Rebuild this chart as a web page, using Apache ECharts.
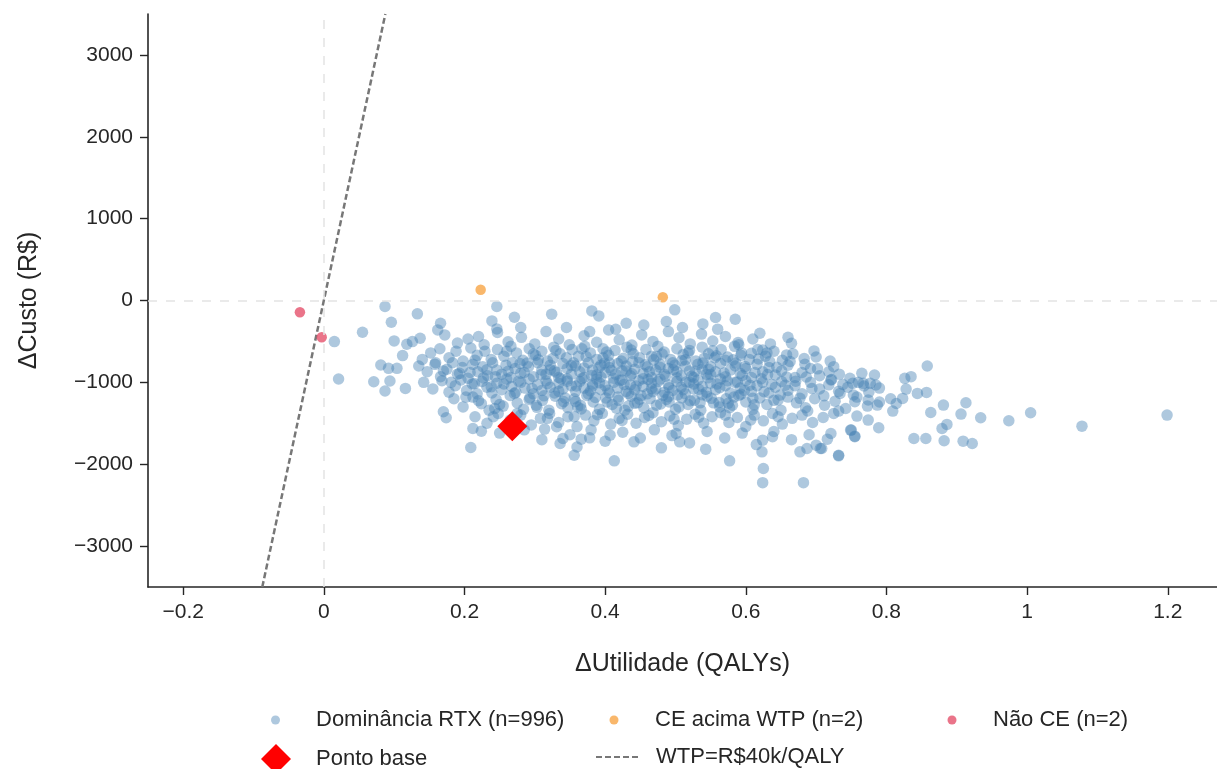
<!DOCTYPE html>
<html><head><meta charset="utf-8">
<script src="https://cdn.jsdelivr.net/npm/echarts@6/dist/echarts.min.js"></script>
<style>html,body{margin:0;padding:0;background:#fff}#c{width:1217px;height:769px}</style>
</head><body><div id="c"></div>
<script>
const X_TICKS = [-0.2, 0, 0.2, 0.4, 0.6, 0.8, 1, 1.2];
const Y_TICKS = [-3000, -2000, -1000, 0, 1000, 2000, 3000];
const X_RANGE = [-0.25, 1.27];
const Y_RANGE = [-3500, 3500];
const WTP = 40000;
const NOT_CE = [[-0.034,-143],[-0.003,-449]];
const CE_ABOVE = [[0.223,131],[0.482,40]];
const BASE_POINT = [[0.268,-1535]];
const DOM_SPARSE = [
[0.087,-73],[0.133,-163],[0.055,-388],[0.015,-502],[0.021,-959],[0.096,-265],[0.166,-278],[0.162,-359],[0.100,-494],[0.081,-788],[0.092,-829],[0.104,-829],[0.071,-992],[0.087,-1106],[0.094,-983],[0.116,-1074],[0.112,-673],[0.118,-535],[0.126,-502],[0.137,-461],[0.246,-347],
[0.246,-73],[0.239,-249],[0.271,-204],[0.324,-167],[0.381,-127],[0.391,-188],[0.430,-278],[0.415,-351],[0.378,-380],[0.499,-114],[0.487,-257],[0.539,-286],[0.557,-208],[0.585,-229],[0.589,-514],[0.665,-522],[0.697,-616],[0.658,-665],[0.684,-780],[0.725,-808],[0.624,-604],[0.608,-645],
[0.212,-1563],[0.224,-1596],[0.209,-1796],[0.314,-1571],[0.331,-1543],[0.356,-1890],[0.340,-1686],[0.336,-1747],[0.243,-1319],[0.170,-1359],[0.174,-1433],[0.413,-1959],[0.577,-1959],[0.624,-1706],[0.623,-1849],[0.625,-2053],[0.624,-2225],[0.682,-2225],[0.677,-1849],[0.687,-1808],[0.700,-1767],[0.706,-1808],[0.732,-1890],[0.543,-1816],[0.638,-1665],[0.755,-1665],[0.750,-1583],[0.366,-1694],[0.378,-1678],[0.407,-1645],[0.441,-1727],[0.501,-1625],[0.506,-1727],
[0.858,-800],[0.783,-910],[0.826,-951],[0.835,-930],[0.752,-1012],[0.767,-1012],[0.777,-1012],[0.785,-1033],[0.721,-971],[0.734,-1135],[0.828,-1082],[0.844,-1135],[0.857,-1123],[0.823,-1196],[0.814,-1258],[0.809,-1351],[0.755,-1237],[0.774,-1216],[0.787,-1278],[0.732,-1351],[0.758,-1412],[0.774,-1461],[0.789,-1555],[0.881,-1278],[0.913,-1249],[0.863,-1368],[0.906,-1388],[0.934,-1433],[0.974,-1469],[1.005,-1371],[1.078,-1535],[1.199,-1400],[0.879,-1563],[0.886,-1514],[0.839,-1686],[0.856,-1686],[0.882,-1714],[0.909,-1718],[0.922,-1747],[0.749,-1583],[0.755,-1657],[0.721,-1625],[0.716,-1694],[0.732,-1898],[0.708,-1808]
];
const DOM_CORE = [
[0.172,-420],[0.19,-520],[0.205,-470],[0.228,-540],[0.247,-390],[0.262,-505],[0.281,-450],[0.30,-530],[0.316,-380],[0.334,-470],[0.349,-540],[0.37,-430],[0.388,-510],[0.405,-360],[0.42,-480],[0.438,-545],[0.452,-420],[0.468,-500],[0.49,-380],[0.505,-455],[0.521,-530],[0.537,-410],[0.553,-495],[0.571,-440],[0.59,-540],[0.61,-470],[0.635,-530],[0.66,-450],[0.345,-330],[0.455,-300],[0.51,-330],[0.28,-330],[0.22,-440],[0.56,-350],[0.62,-400],
[0.152,-640],[0.165,-590],[0.178,-700],[0.188,-620],[0.198,-740],[0.209,-580],[0.218,-670],[0.229,-620],[0.238,-720],[0.247,-600],[0.256,-680],[0.266,-560],[0.274,-640],[0.283,-730],[0.292,-590],[0.301,-670],[0.31,-620],[0.318,-740],[0.327,-570],[0.336,-650],[0.345,-700],[0.353,-600],[0.362,-680],[0.371,-560],[0.379,-640],[0.388,-720],[0.397,-590],[0.405,-670],[0.414,-610],[0.423,-740],[0.431,-570],[0.44,-650],[0.449,-700],[0.458,-600],[0.466,-680],[0.475,-560],[0.484,-630],[0.493,-720],[0.502,-590],[0.511,-660],[0.52,-610],[0.529,-740],[0.538,-570],[0.547,-650],[0.556,-700],[0.565,-600],[0.574,-690],[0.584,-560],[0.594,-640],[0.605,-720],[0.617,-600],[0.628,-680],[0.64,-620],[0.652,-730],[0.667,-650],[0.683,-710],[0.70,-690],[0.72,-740],[0.14,-720],[0.159,-760],
[0.135,-800],[0.147,-870],[0.158,-780],[0.166,-930],[0.175,-840],[0.183,-760],[0.19,-900],[0.197,-820],[0.205,-950],[0.212,-780],[0.219,-870],[0.226,-810],[0.233,-920],[0.24,-760],[0.246,-850],[0.253,-900],[0.259,-790],[0.266,-940],[0.272,-830],[0.279,-770],[0.285,-880],[0.291,-810],[0.298,-930],[0.304,-760],[0.31,-850],[0.316,-900],[0.322,-790],[0.328,-860],[0.334,-940],[0.34,-770],[0.346,-830],[0.352,-900],[0.358,-800],[0.364,-870],[0.37,-940],[0.376,-760],[0.382,-850],[0.388,-910],[0.394,-790],[0.4,-880],[0.406,-820],[0.412,-950],[0.418,-770],[0.424,-860],[0.43,-800],[0.436,-920],[0.442,-840],[0.448,-760],[0.454,-890],[0.46,-810],[0.466,-940],[0.472,-850],[0.478,-780],[0.484,-900],[0.49,-830],[0.496,-760],[0.502,-870],[0.508,-920],[0.514,-800],[0.52,-860],[0.526,-940],[0.532,-780],[0.538,-840],[0.544,-900],[0.55,-810],[0.557,-870],[0.564,-770],[0.571,-930],[0.578,-850],[0.585,-800],[0.592,-890],[0.6,-830],[0.608,-940],[0.616,-780],[0.624,-870],[0.633,-820],[0.642,-910],[0.651,-860],[0.66,-790],[0.67,-940],[0.68,-880],[0.692,-830],[0.705,-920],[0.718,-870],[0.733,-900],[0.748,-950],[0.765,-890],
[0.142,-1000],[0.155,-1080],[0.168,-980],[0.178,-1120],[0.187,-1040],[0.195,-970],[0.203,-1100],[0.211,-1020],[0.218,-1140],[0.225,-990],[0.232,-1060],[0.239,-1130],[0.246,-1010],[0.253,-1090],[0.26,-960],[0.267,-1050],[0.273,-1120],[0.28,-1000],[0.286,-1070],[0.292,-960],[0.298,-1140],[0.304,-1030],[0.31,-1100],[0.316,-980],[0.322,-1060],[0.328,-1130],[0.334,-1010],[0.34,-1080],[0.346,-960],[0.352,-1040],[0.358,-1110],[0.364,-990],[0.37,-1070],[0.376,-1140],[0.382,-1020],[0.388,-960],[0.394,-1090],[0.4,-1040],[0.406,-1130],[0.412,-1000],[0.418,-1070],[0.424,-970],[0.43,-1110],[0.436,-1030],[0.442,-1090],[0.448,-980],[0.454,-1050],[0.46,-1140],[0.466,-1010],[0.472,-1080],[0.478,-960],[0.484,-1120],[0.49,-1030],[0.496,-1100],[0.502,-990],[0.508,-1060],[0.514,-1140],[0.52,-1000],[0.526,-1080],[0.532,-970],[0.538,-1050],[0.544,-1120],[0.55,-1010],[0.557,-1090],[0.564,-960],[0.571,-1040],[0.578,-1130],[0.585,-1000],[0.592,-1070],[0.6,-980],[0.608,-1110],[0.616,-1040],[0.624,-1000],[0.633,-1130],[0.642,-1060],[0.651,-990],[0.66,-1100],[0.67,-1040],[0.68,-1140],[0.692,-1000],[0.705,-1080],[0.718,-1030],[0.732,-1110],[0.745,-1060],[0.76,-1000],[0.775,-1120],[0.79,-1070],
[0.185,-1200],[0.198,-1300],[0.212,-1180],[0.224,-1260],[0.235,-1340],[0.245,-1210],[0.255,-1290],[0.265,-1160],[0.275,-1250],[0.284,-1330],[0.293,-1190],[0.302,-1280],[0.311,-1220],[0.32,-1340],[0.329,-1170],[0.338,-1260],[0.347,-1310],[0.356,-1200],[0.365,-1280],[0.374,-1160],[0.383,-1240],[0.392,-1330],[0.401,-1190],[0.41,-1270],[0.419,-1220],[0.428,-1340],[0.437,-1170],[0.446,-1250],[0.455,-1310],[0.464,-1200],[0.473,-1280],[0.482,-1160],[0.491,-1240],[0.5,-1330],[0.509,-1190],[0.518,-1270],[0.527,-1220],[0.536,-1340],[0.545,-1170],[0.554,-1250],[0.563,-1300],[0.572,-1200],[0.581,-1280],[0.59,-1160],[0.6,-1240],[0.61,-1330],[0.62,-1190],[0.63,-1270],[0.64,-1220],[0.65,-1340],[0.66,-1180],[0.672,-1250],[0.685,-1310],[0.698,-1200],[0.712,-1280],[0.727,-1230],[0.742,-1320],[0.758,-1180],[0.773,-1290],[0.79,-1240],[0.806,-1200],
[0.215,-1420],[0.232,-1500],[0.248,-1380],[0.265,-1460],[0.28,-1400],[0.295,-1520],[0.308,-1440],[0.321,-1380],[0.334,-1490],[0.347,-1420],[0.36,-1540],[0.372,-1400],[0.384,-1470],[0.396,-1380],[0.408,-1510],[0.42,-1440],[0.432,-1390],[0.444,-1500],[0.456,-1430],[0.468,-1370],[0.48,-1480],[0.492,-1410],[0.504,-1530],[0.516,-1450],[0.528,-1390],[0.54,-1500],[0.552,-1420],[0.564,-1370],[0.576,-1490],[0.588,-1430],[0.6,-1540],[0.612,-1400],[0.625,-1470],[0.638,-1380],[0.652,-1510],[0.666,-1440],[0.68,-1400],[0.695,-1490],[0.71,-1430],[0.725,-1380],
[0.25,-1620],[0.285,-1580],[0.31,-1700],[0.35,-1640],[0.38,-1580],[0.4,-1720],[0.425,-1610],[0.45,-1680],[0.47,-1580],[0.495,-1650],[0.52,-1740],[0.545,-1600],[0.57,-1680],[0.595,-1620],[0.615,-1760],[0.64,-1600],[0.665,-1700],[0.69,-1640],[0.36,-1790],[0.48,-1800],
[0.305,-725],[0.318,-1015],[0.331,-880],[0.343,-1190],[0.355,-760],[0.367,-955],[0.379,-1105],[0.391,-820],[0.403,-1240],[0.415,-900],[0.427,-1025],[0.439,-745],[0.451,-1160],[0.463,-870],[0.475,-990],[0.487,-1210],[0.499,-790],[0.511,-1090],[0.523,-925],[0.535,-1250],[0.547,-840],[0.559,-1020],[0.571,-730],[0.583,-1180],[0.595,-915],[0.361,-1300],[0.397,-700],[0.433,-1290],[0.469,-725],[0.505,-1300],[0.541,-705],[0.577,-1310],[0.613,-880],[0.322,-845],[0.334,-1110],[0.346,-985],[0.358,-1235],[0.37,-825],[0.382,-1045],[0.394,-935],[0.406,-760],[0.418,-1180],[0.43,-860],[0.442,-1255],[0.454,-955],[0.466,-1075],[0.478,-815],[0.49,-1175],[0.502,-945],[0.514,-725],[0.526,-1020],[0.538,-1150],[0.55,-905],[0.562,-1245],[0.574,-980],[0.586,-765],[0.598,-1100],[0.61,-1195],[0.622,-955],[0.634,-745],[0.646,-1215],[0.658,-935],[0.28,-890],[0.292,-1210],[0.268,-760],[0.256,-1020],[0.244,-930],[0.232,-845],[0.22,-1225],[0.208,-880],
[0.298,-655],[0.309,-905],[0.313,-1165],[0.326,-705],[0.337,-955],[0.341,-1235],[0.352,-795],[0.359,-1045],[0.366,-1325],[0.373,-685],[0.381,-915],[0.386,-1185],[0.392,-1005],[0.399,-765],[0.404,-1095],[0.409,-855],[0.416,-1315],[0.421,-975],[0.426,-705],[0.433,-1135],[0.438,-895],[0.444,-1045],[0.449,-1205],[0.457,-785],[0.461,-965],[0.468,-1115],[0.473,-685],[0.479,-1265],[0.486,-925],[0.491,-1065],[0.497,-845],[0.503,-1155],[0.509,-735],[0.515,-995],[0.521,-1225],[0.528,-865],[0.533,-1085],[0.539,-765],[0.546,-945],[0.551,-1195],[0.558,-675],[0.563,-1065],[0.569,-885],[0.575,-1255],[0.582,-725],[0.588,-995],[0.593,-1145],[0.599,-805],[0.606,-1035],[0.612,-1275],[0.618,-715],[0.626,-1115],[0.631,-905],[0.637,-1025],[0.644,-815],[0.649,-1155],[0.656,-1035],[0.663,-745],[0.671,-985],[0.677,-1195],[0.686,-935],[0.694,-1075],[0.702,-835],[0.711,-1165],[0.722,-965],[0.738,-1025],[0.753,-1155],[0.768,-1045],
[0.262,-865],[0.271,-1135],[0.277,-985],[0.289,-765],[0.296,-1075],[0.303,-1305],[0.227,-945],[0.238,-1055],[0.214,-1015],[0.193,-890],[0.181,-1000],[0.202,-1180],[0.25,-1270],[0.241,-1420],[0.275,-1380],[0.318,-1440],[0.356,-1420],[0.389,-1395],[0.424,-1465],[0.462,-1405],[0.498,-1450],[0.533,-1425],[0.571,-1400],[0.607,-1460],[0.646,-1420],[0.688,-1350],[0.33,-610],[0.367,-590],[0.402,-630],[0.437,-605],[0.481,-655],[0.518,-640],[0.553,-615],[0.593,-670],[0.63,-640],[0.26,-620],[0.215,-730],[0.17,-860]
];
const NAMES = {
  dom: 'Dominância RTX (n=996)',
  ce: 'CE acima WTP (n=2)',
  nce: 'Não CE (n=2)',
  base: 'Ponto base',
  wtp: 'WTP=R$40k/QALY'
};

const FONT = '"Liberation Sans", Arial, Helvetica, sans-serif';
const TXT = '#262626';
const fmt = v => String(v).replace('-', '\u2212');
const wtpLine = [[Y_RANGE[0] / WTP, Y_RANGE[0]], [Y_RANGE[1] / WTP, Y_RANGE[1]]];

const legendBase = {
  orient: 'horizontal', padding: 0, selectedMode: false,
  textStyle: { fontFamily: FONT, fontSize: 22, color: TXT }
};
function lg(name, left, top, w, h, padLeft, extra) {
  return Object.assign({}, legendBase, {
    data: [name], left: left, top: top, itemWidth: w, itemHeight: h,
    textStyle: Object.assign({}, legendBase.textStyle, { padding: [0, 0, 0, padLeft] })
  }, extra || {});
}

const chart = echarts.init(document.getElementById('c'), null, { renderer: 'canvas' });
chart.setOption({
  animation: false,
  backgroundColor: '#ffffff',
  grid: { left: 148, right: 0, top: 14, bottom: 182, containLabel: false },
  xAxis: {
    type: 'value', min: X_RANGE[0], max: X_RANGE[1],
    name: 'ΔUtilidade (QALYs)', nameLocation: 'middle', nameGap: 65,
    nameTextStyle: { fontFamily: FONT, fontSize: 25, color: TXT },
    axisLine: { show: true, onZero: false, lineStyle: { color: TXT, width: 1.6 } },
    axisTick: { show: true, length: 8, lineStyle: { color: TXT, width: 1.4 }, customValues: X_TICKS },
    axisLabel: { fontFamily: FONT, fontSize: 21, color: TXT, margin: 15, customValues: X_TICKS, formatter: fmt },
    splitLine: { show: false }
  },
  yAxis: {
    type: 'value', min: Y_RANGE[0], max: Y_RANGE[1],
    name: 'ΔCusto (R$)', nameLocation: 'middle', nameGap: 106,
    nameTextStyle: { fontFamily: FONT, fontSize: 25, color: TXT },
    axisLine: { show: true, onZero: false, lineStyle: { color: TXT, width: 1.6 } },
    axisTick: { show: true, length: 8, lineStyle: { color: TXT, width: 1.4 }, customValues: Y_TICKS },
    axisLabel: { fontFamily: FONT, fontSize: 21, color: TXT, margin: 15, customValues: Y_TICKS, formatter: fmt },
    splitLine: { show: false }
  },
  legend: [
    lg(NAMES.dom, 271, 709, 9, 9, 31),
    lg(NAMES.ce, 609.5, 709, 9, 9, 31.5),
    lg(NAMES.nce, 947.5, 709, 9, 9, 31.5),
    lg(NAMES.base, 261, 744, 30, 30, 20),
    lg(NAMES.wtp, 595, 746, 42, 26, 13, { itemStyle: { color: 'rgba(0,0,0,0)', borderWidth: 0, opacity: 0 } })
  ],
  series: [
    {
      name: '_ref', type: 'line', data: [], silent: true, z: 1,
      markLine: {
        silent: true, symbol: 'none', label: { show: false },
        lineStyle: { color: '#e3e3e3', type: [9, 9], width: 1.5 },
        data: [{ xAxis: 0 }, { yAxis: 0 }]
      }
    },
    {
      name: NAMES.wtp, type: 'line', data: wtpLine, symbol: 'none', showSymbol: false, z: 2,
      lineStyle: { color: '#777777', width: 2.5, type: [6, 3] }, itemStyle: { color: '#777777' }, silent: true
    },
    {
      name: NAMES.dom, type: 'scatter', data: DOM_SPARSE.concat(DOM_CORE), symbol: 'circle', symbolSize: 11.5, z: 3,
      itemStyle: { color: 'rgba(70,130,180,0.55)' }, silent: true
    },
    {
      name: NAMES.ce, type: 'scatter', data: CE_ABOVE, symbol: 'circle', symbolSize: 10.5, z: 4,
      itemStyle: { color: 'rgba(247,160,60,0.95)' }, silent: true
    },
    {
      name: NAMES.nce, type: 'scatter', data: NOT_CE, symbol: 'circle', symbolSize: 10.5, z: 4,
      itemStyle: { color: 'rgba(228,72,100,0.95)' }, silent: true
    },
    {
      name: NAMES.base, type: 'scatter', data: BASE_POINT, symbol: 'diamond', symbolSize: 30, z: 5,
      itemStyle: { color: '#ff0000', opacity: 1 }, silent: true
    }
  ]
});
</script></body></html>
